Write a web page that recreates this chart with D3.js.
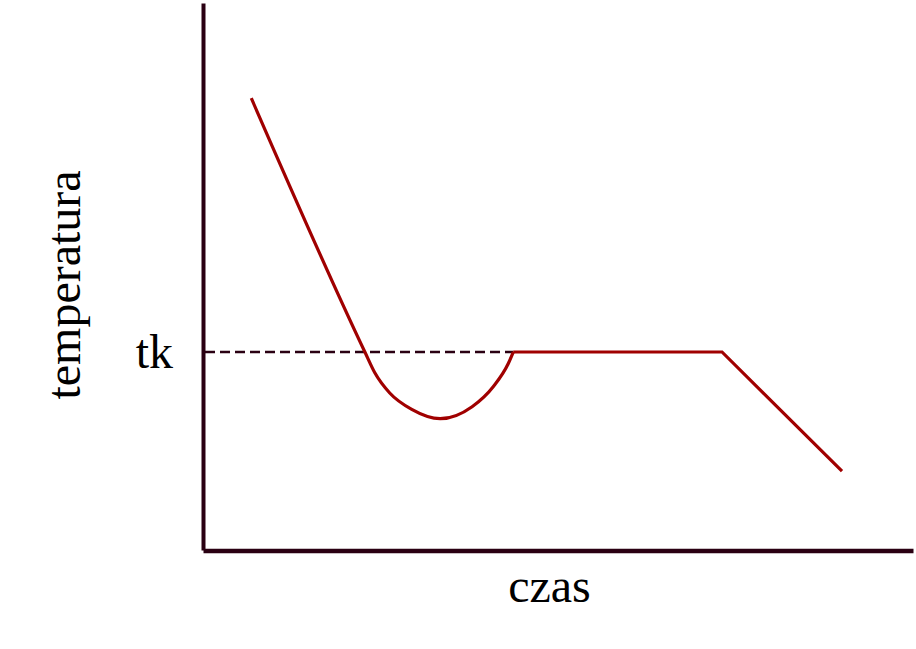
<!DOCTYPE html>
<html>
<head>
<meta charset="utf-8">
<script src="https://cdn.jsdelivr.net/npm/d3@7"></script>
<style>
  html, body { margin: 0; padding: 0; background: #ffffff; }
  svg { display: block; }
</style>
</head>
<body>
<svg id="chart" width="916" height="649"></svg>
<script>
// ---- data (arbitrary units) ----
const timeValues = [6.8, 22.8, 24.2, 26.3, 29.4, 33.4, 37.9, 40.9, 43.0, 43.7, 73.1, 90.0];
const tempValues = [82.6, 36.2, 32.4, 28.7, 25.7, 24.0, 26.2, 29.9, 34.1, 36.2, 36.2, 14.4];
const curvedPart = [0, 9];   // index range drawn as a smooth curve (cooling + undercooling dip)
const straightPart = [9, 11]; // index range drawn with straight segments (plateau + cooling)
const tkValue = 36.2;
const tkLabel = "tk";
const xLabel = "czas";
const yLabel = "temperatura";

// ---- layout ----
const svg = d3.select("#chart");
const axisColor = "#2a0012";
const lineColor = "#a00000";

const x = d3.scaleLinear().domain([0, 100]).range([203, 913]);
const y = d3.scaleLinear().domain([0, 100]).range([550, 3]);

const points = timeValues.map((t, i) => ({ t, v: tempValues[i] }));

// dashed line at tk from axis to end of dip
svg.append("line")
  .attr("x1", x(0) + 2)
  .attr("x2", x(timeValues[curvedPart[1]]))
  .attr("y1", y(tkValue))
  .attr("y2", y(tkValue))
  .attr("stroke", axisColor)
  .attr("stroke-width", 2.5)
  .attr("stroke-dasharray", "10,5");

// curve
const smooth = d3.line().x(d => x(d.t)).y(d => y(d.v)).curve(d3.curveMonotoneX);
const straight = d3.line().x(d => x(d.t)).y(d => y(d.v)).curve(d3.curveLinear);

svg.append("path")
  .datum(points.slice(curvedPart[0], curvedPart[1] + 1))
  .attr("d", smooth)
  .attr("fill", "none")
  .attr("stroke", lineColor)
  .attr("stroke-width", 3.2)
  .attr("stroke-linejoin", "round");

svg.append("path")
  .datum(points.slice(straightPart[0], straightPart[1] + 1))
  .attr("d", straight)
  .attr("fill", "none")
  .attr("stroke", lineColor)
  .attr("stroke-width", 3.2)
  .attr("stroke-linejoin", "miter");

// axes
const yAxis = d3.axisLeft(y)
  .tickValues([tkValue])
  .tickFormat(() => tkLabel)
  .tickSize(0)
  .tickSizeOuter(0)
  .tickPadding(30);

const xAxis = d3.axisBottom(x)
  .tickValues([])
  .tickSize(0)
  .tickSizeOuter(0);

const gx = svg.append("g").attr("transform", `translate(0,${y(0) + 0.5})`).call(xAxis);
gx.select(".domain").attr("stroke", axisColor).attr("stroke-width", 4.5);

const gy = svg.append("g").attr("transform", `translate(${x(0)},0)`).call(yAxis);
gy.select(".domain").attr("stroke", axisColor).attr("stroke-width", 4);
gy.selectAll(".tick text")
  .attr("font-family", "'Liberation Serif', 'Times New Roman', serif")
  .attr("font-size", 48)
  .attr("fill", "#000");

// axis titles
svg.append("text")
  .attr("x", 549.5)
  .attr("y", 602)
  .attr("text-anchor", "middle")
  .attr("font-family", "'Liberation Serif', 'Times New Roman', serif")
  .attr("font-size", 48)
  .attr("fill", "#000")
  .text(xLabel);

svg.append("text")
  .attr("transform", "translate(80,285) rotate(-90)")
  .attr("text-anchor", "middle")
  .attr("font-family", "'Liberation Serif', 'Times New Roman', serif")
  .attr("font-size", 48)
  .attr("fill", "#000")
  .text(yLabel);
</script>
</body>
</html>
